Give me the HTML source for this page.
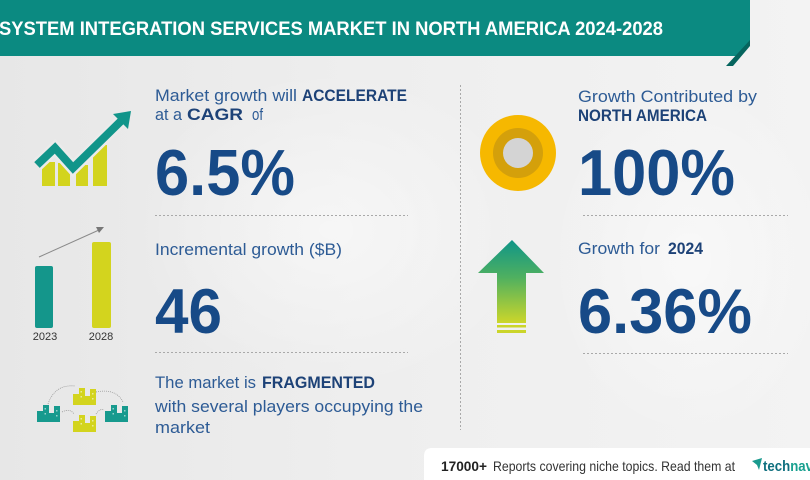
<!DOCTYPE html>
<html>
<head>
<meta charset="utf-8">
<style>
  html,body{margin:0;padding:0;background:#eeeeee;}
  svg{display:block;}
  text{font-family:"Liberation Sans", sans-serif;}
</style>
</head>
<body>
<svg width="810" height="480" viewBox="0 0 810 480" xmlns="http://www.w3.org/2000/svg">
  <defs>
    <linearGradient id="bg" x1="0" y1="0" x2="1" y2="0">
      <stop offset="0" stop-color="#e7e7e7"/>
      <stop offset="0.45" stop-color="#eeeeee"/>
      <stop offset="1" stop-color="#f3f3f3"/>
    </linearGradient>
    <linearGradient id="arr" x1="0" y1="0" x2="0" y2="1">
      <stop offset="0" stop-color="#0f9588"/>
      <stop offset="0.45" stop-color="#4fb060"/>
      <stop offset="1" stop-color="#ccd62a"/>
    </linearGradient>
    <radialGradient id="glow" cx="0.5" cy="0.5" r="0.5">
      <stop offset="0" stop-color="#ffffff" stop-opacity="0.5"/>
      <stop offset="1" stop-color="#ffffff" stop-opacity="0"/>
    </radialGradient>
  </defs>

  <!-- background -->
  <rect x="0" y="0" width="810" height="480" fill="url(#bg)"/>
  <ellipse cx="330" cy="230" rx="200" ry="160" fill="url(#glow)"/>
  <ellipse cx="690" cy="260" rx="140" ry="180" fill="url(#glow)"/>

  <!-- title banner -->
  <polygon points="0,0 750,0 750,44 738,56 0,56" fill="#0b8a81"/>
  <polygon points="750,40 750,46 733,66 726,66" fill="#06655e"/>
  <text x="-1" y="35" font-size="19" font-weight="bold" fill="#ffffff" textLength="664" lengthAdjust="spacingAndGlyphs">SYSTEM INTEGRATION SERVICES MARKET IN NORTH AMERICA 2024-2028</text>

  <!-- dashed separators -->
  <g stroke="#a9a9a9" stroke-width="1" stroke-dasharray="2,2" fill="none">
    <line x1="155" y1="215.5" x2="408" y2="215.5"/>
    <line x1="155" y1="352.5" x2="408" y2="352.5"/>
    <line x1="583" y1="215.5" x2="788" y2="215.5"/>
    <line x1="583" y1="353.5" x2="788" y2="353.5"/>
    <line x1="460.5" y1="85" x2="460.5" y2="430"/>
  </g>

  <!-- Icon 1: trending arrow with bars -->
  <g fill="#d3d41e">
    <rect x="42" y="162" width="13" height="24"/>
    <rect x="58" y="163" width="12" height="23"/>
    <rect x="76" y="165" width="12" height="21"/>
    <rect x="93" y="145" width="14" height="41"/>
  </g>
  <polyline points="37,165 55,148 73,168 121,121" fill="none" stroke="#ebebeb" stroke-width="13" stroke-linejoin="miter"/>
  <polyline points="37,165 55,148 73,168 121,121" fill="none" stroke="#11958a" stroke-width="8" stroke-linejoin="miter"/>
  <polygon points="131,111 128,129 113,114" fill="#11958a"/>

  <!-- Icon 2: bar chart -->
  <rect x="35" y="266" width="18" height="62" rx="2" fill="#14968b"/>
  <rect x="92" y="242" width="19" height="86" rx="2" fill="#d3d41e"/>
  <line x1="39" y1="257" x2="99" y2="230" stroke="#8a8a8a" stroke-width="1"/>
  <polygon points="104,227 96,227 99,233" fill="#777"/>
  <text x="45" y="340" font-size="11" fill="#333" text-anchor="middle">2023</text>
  <text x="101" y="340" font-size="11" fill="#333" text-anchor="middle">2028</text>

  <!-- Icon 3: buildings -->
  <g fill="none" stroke="#9a9a9a" stroke-width="0.8" stroke-dasharray="1,1">
    <path d="M48,404 Q55,384 75,386"/>
    <path d="M96,392 Q116,388 123,402"/>
    <path d="M62,412 Q70,408 74,414"/>
    <path d="M96,414 Q100,408 104,410"/>
  </g>
  <!-- left teal cluster -->
  <g fill="#179a8e">
    <rect x="37" y="411" width="6" height="11"/>
    <rect x="43" y="405" width="6" height="17"/>
    <rect x="49" y="413" width="5" height="9"/>
    <rect x="54" y="406" width="6" height="16"/>
  </g>
  <!-- right teal cluster -->
  <g fill="#179a8e">
    <rect x="105" y="411" width="6" height="11"/>
    <rect x="111" y="405" width="6" height="17"/>
    <rect x="117" y="413" width="5" height="9"/>
    <rect x="122" y="406" width="6" height="16"/>
  </g>
  <!-- top yellow cluster -->
  <g fill="#d3d41e">
    <rect x="73" y="394" width="6" height="11"/>
    <rect x="79" y="388" width="6" height="17"/>
    <rect x="85" y="396" width="5" height="9"/>
    <rect x="90" y="389" width="6" height="16"/>
  </g>
  <!-- bottom yellow cluster -->
  <g fill="#d3d41e">
    <rect x="73" y="421" width="6" height="11"/>
    <rect x="79" y="415" width="6" height="17"/>
    <rect x="85" y="423" width="5" height="9"/>
    <rect x="90" y="416" width="6" height="16"/>
  </g>
  <g fill="#ffffff" opacity="0.55">
    <rect x="44.5" y="408" width="1.5" height="1.5"/><rect x="44.5" y="413" width="1.5" height="1.5"/><rect x="56" y="410" width="1.5" height="1.5"/><rect x="56" y="415" width="1.5" height="1.5"/>
    <rect x="112.5" y="408" width="1.5" height="1.5"/><rect x="112.5" y="413" width="1.5" height="1.5"/><rect x="124" y="410" width="1.5" height="1.5"/><rect x="124" y="415" width="1.5" height="1.5"/>
    <rect x="80.5" y="391" width="1.5" height="1.5"/><rect x="80.5" y="396" width="1.5" height="1.5"/><rect x="92" y="393" width="1.5" height="1.5"/><rect x="92" y="398" width="1.5" height="1.5"/>
    <rect x="80.5" y="418" width="1.5" height="1.5"/><rect x="80.5" y="423" width="1.5" height="1.5"/><rect x="92" y="420" width="1.5" height="1.5"/><rect x="92" y="425" width="1.5" height="1.5"/>
  </g>

  <!-- Left texts -->
  <text x="155" y="101" font-size="17" fill="#2d5b95" textLength="142" lengthAdjust="spacingAndGlyphs">Market growth will</text>
  <text x="302" y="101" font-size="17" font-weight="bold" fill="#1d4277" textLength="105" lengthAdjust="spacingAndGlyphs">ACCELERATE</text>
  <text x="155" y="120" font-size="17" fill="#2d5b95" textLength="27" lengthAdjust="spacingAndGlyphs">at a</text>
  <text x="187" y="120" font-size="17" font-weight="bold" fill="#1d4277" textLength="56" lengthAdjust="spacingAndGlyphs">CAGR</text>
  <text x="252" y="120" font-size="17" fill="#2d5b95" textLength="11" lengthAdjust="spacingAndGlyphs">of</text>

  <text x="155" y="195" font-size="65" font-weight="bold" fill="#174a87" textLength="140" lengthAdjust="spacingAndGlyphs">6.5%</text>

  <text x="155" y="255" font-size="17" fill="#2d5b95" textLength="187" lengthAdjust="spacingAndGlyphs">Incremental growth ($B)</text>
  <text x="155" y="333" font-size="63" font-weight="bold" fill="#174a87" textLength="67" lengthAdjust="spacingAndGlyphs">46</text>

  <text x="155" y="388" font-size="17" fill="#2d5b95" textLength="101" lengthAdjust="spacingAndGlyphs">The market is</text>
  <text x="262" y="388" font-size="17" font-weight="bold" fill="#1d4277" textLength="113" lengthAdjust="spacingAndGlyphs">FRAGMENTED</text>
  <text x="155" y="412" font-size="17" fill="#2d5b95" textLength="268" lengthAdjust="spacingAndGlyphs">with several players occupying the</text>
  <text x="155" y="433" font-size="17" fill="#2d5b95" textLength="55" lengthAdjust="spacingAndGlyphs">market</text>

  <!-- Right icons -->
  <circle cx="518" cy="153" r="38" fill="#f6b800"/>
  <circle cx="518" cy="153" r="25" fill="#d4a00b"/>
  <circle cx="518" cy="153" r="15" fill="#d4d4d4"/>

  <polygon points="512,240 478,273 497,273 497,323 526,323 526,273 544,273" fill="url(#arr)"/>
  <rect x="497" y="325" width="29" height="2.5" fill="#cbd52a"/>
  <rect x="497" y="330" width="29" height="3" fill="#cbd52a"/>

  <!-- Right texts -->
  <text x="578" y="102" font-size="17" fill="#2d5b95" textLength="179" lengthAdjust="spacingAndGlyphs">Growth Contributed by</text>
  <text x="578" y="121" font-size="17" font-weight="bold" fill="#1d4277" textLength="129" lengthAdjust="spacingAndGlyphs">NORTH AMERICA</text>
  <text x="578" y="195" font-size="65" font-weight="bold" fill="#174a87" textLength="157" lengthAdjust="spacingAndGlyphs">100%</text>

  <text x="578" y="254" font-size="17" fill="#2d5b95" textLength="82" lengthAdjust="spacingAndGlyphs">Growth for</text>
  <text x="668" y="254" font-size="17" font-weight="bold" fill="#1d4277" textLength="35" lengthAdjust="spacingAndGlyphs">2024</text>
  <text x="578" y="333" font-size="63" font-weight="bold" fill="#174a87" textLength="174" lengthAdjust="spacingAndGlyphs">6.36%</text>

  <!-- footer -->
  <path d="M432,448 H810 V480 H424 V456 Q424,448 432,448 Z" fill="#ffffff"/>
  <text x="441" y="471" font-size="14" font-weight="bold" fill="#222" textLength="46" lengthAdjust="spacingAndGlyphs">17000+</text>
  <text x="493" y="471" font-size="14" fill="#333" textLength="242" lengthAdjust="spacingAndGlyphs">Reports covering niche topics. Read them at</text>
  <polygon points="752,461 762,458 759,470 757,465" fill="#1a9a8e"/>
  <text x="763" y="471" font-size="15" font-weight="bold" fill="#0f6f7e" textLength="50" lengthAdjust="spacingAndGlyphs">tech<tspan fill="#18a08f">nav</tspan></text>
</svg>
</body>
</html>
